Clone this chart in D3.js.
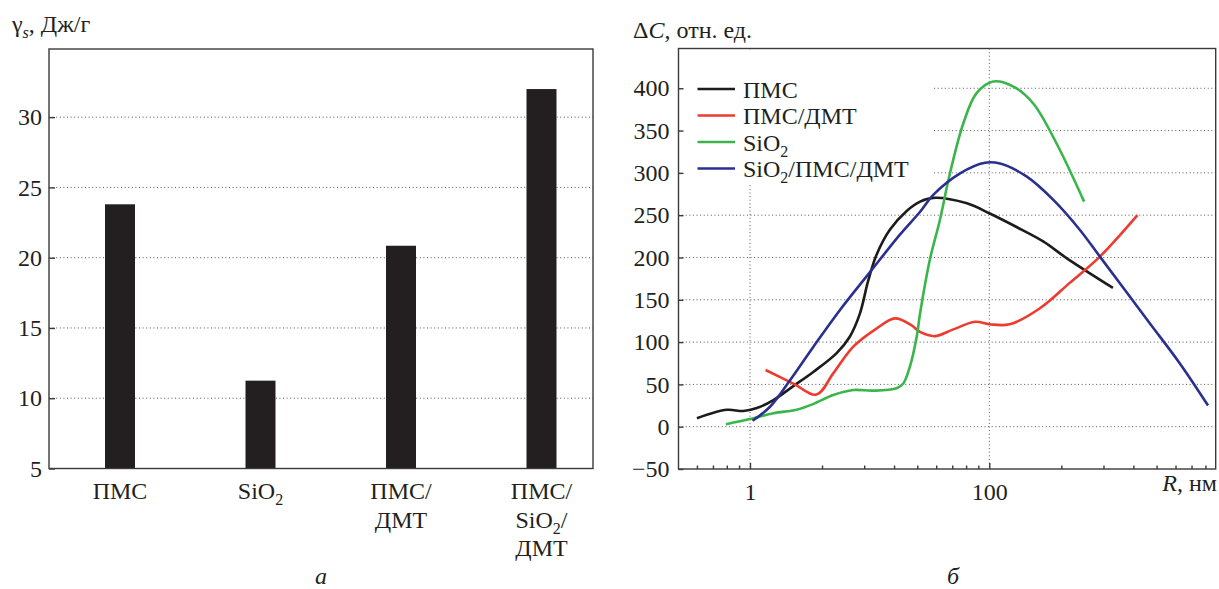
<!DOCTYPE html>
<html>
<head>
<meta charset="utf-8">
<script src="https://cdn.jsdelivr.net/npm/d3@7"></script>
<style>
  body { margin: 0; background: #fff; }
</style>
</head>
<body>
<svg id="chart" width="1219" height="589"></svg>
<script>
// ---- data (left panel: surface energy) ----
var categories = [["ПМС"], ["SiO_2"], ["ПМС/", "ДМТ"], ["ПМС/", "SiO_2/", "ДМТ"]];
var gammaValues = [23.8, 11.25, 20.85, 32.0];
var gammaTicks = [5, 10, 15, 20, 25, 30];

// ---- data (right panel: pore size distribution) ----
var seriesNames = ["ПМС", "ПМС/ДМТ", "SiO_2", "SiO_2/ПМС/ДМТ"];
var seriesColors = ["#1e1b1c", "#ee3b2f", "#3ab54a", "#2b2f8f"];

var pmsR = [0.36, 0.64, 0.88, 1.14, 1.57, 2.3, 3.4, 5.3, 6.8, 8.3, 9.7, 11.4, 14.8, 20.4, 26.4, 34, 65, 101, 169, 282, 445, 1080];
var pmsC = [10, 20, 18.5, 22, 31.5, 48, 65, 87, 106, 134, 172, 203, 233, 255, 266, 270.5, 264, 252, 236, 219, 199, 164];

var pmsDmtR = [1.35, 2.3, 3.6, 4.96, 7.3, 11.4, 16.3, 22.3, 26.4, 35, 50, 76, 101, 148, 265, 470, 840, 1730];
var pmsDmtC = [67, 51, 38, 63, 94.6, 116, 128, 120, 112, 107, 115, 124, 121, 121, 140, 170, 201, 250];

var sio2R = [0.63, 1, 1.57, 2.45, 3.4, 4.96, 7.3, 10.7, 16.8, 19.1, 21.7, 24.7, 26.4, 31.8, 38.6, 46.9, 60.7, 78, 108, 159, 233, 364, 620];
var sio2C = [3, 9, 16, 20, 27, 37.5, 43.4, 42.6, 45.4, 51, 71, 106, 134, 197, 244, 299.5, 358.6, 394, 408, 402, 382, 335, 266];

var mixR = [1.05, 1.47, 2.16, 3.39, 5.65, 10.1, 17.9, 26.4, 34, 57, 92, 123, 206, 343, 572, 840, 2200, 3900, 6730];
var mixC = [7, 23.6, 55, 94.6, 138, 183, 227, 254, 274, 299.5, 312, 311, 295.5, 268, 232.5, 201, 122, 75, 25];

var deltaTicks = [-50, 0, 50, 100, 150, 200, 250, 300, 350, 400];
var rMajorTicks = [1, 100];
var rMinorTicks = [0.36, 0.49, 0.64, 0.81, 4, 9, 16, 25, 36, 49, 64, 81, 400, 900, 1600, 2500, 3600, 4900, 6400];

var serif = "'Liberation Serif', 'DejaVu Serif', 'Noto Serif', serif";
var fontSize = 24;
var subSize = 16;
var subShift = 6;

var svg = d3.select("#chart")
  .attr("font-family", serif);

// draw "SiO_2" style text: _digit becomes a subscript
function richText(sel, str) {
  var parts = str.split(/(_\d)/);
  var shifted = false;
  parts.forEach(function(p) {
    if (!p) return;
    if (p[0] === "_") {
      sel.append("tspan").attr("dy", subShift).attr("font-size", subSize).text(p.slice(1));
      shifted = true;
    } else {
      var t = sel.append("tspan").text(p);
      if (shifted) { t.attr("dy", -subShift); shifted = false; }
    }
  });
}

function addText(g) {
  return g.append("text").attr("font-family", serif).attr("font-size", fontSize).attr("fill", "#231f20");
}

function dottedGrid(g) {
  g.attr("stroke", "#555").attr("stroke-width", 1).attr("stroke-dasharray", "1,2.6").attr("fill", "none");
}

function styleAxis(g) {
  g.select(".domain").remove();
  g.attr("font-family", serif);
  g.selectAll("line").attr("stroke", "#3a3a3a").attr("stroke-width", 1.4);
  g.selectAll("text").attr("font-size", fontSize).attr("font-family", serif).attr("fill", "#231f20");
}

// =========== LEFT PANEL ===========
var L = {left: 49, right: 593, top: 49, bottom: 468.5};

var xCat = d3.scalePoint()
  .domain(d3.range(categories.length))
  .range([120, 541.5]);

var yGamma = d3.scaleLinear()
  .domain([5, 34.85])
  .range([L.bottom, L.top]);

var left = svg.append("g");

// grid
left.append("g").call(dottedGrid)
  .selectAll("line")
  .data(gammaTicks.filter(d => d > 5))
  .enter().append("line")
  .attr("x1", L.left).attr("x2", L.right)
  .attr("y1", d => yGamma(d)).attr("y2", d => yGamma(d));

// bars
var barW = 30;
left.selectAll("rect.bar")
  .data(gammaValues)
  .enter().append("rect")
  .attr("class", "bar")
  .attr("x", (d, i) => xCat(i) - barW / 2)
  .attr("width", barW)
  .attr("y", d => yGamma(d))
  .attr("height", d => L.bottom - yGamma(d))
  .attr("fill", "#231f20");

// frame
left.append("rect")
  .attr("x", L.left).attr("y", L.top)
  .attr("width", L.right - L.left).attr("height", L.bottom - L.top)
  .attr("fill", "none").attr("stroke", "#3a3a3a").attr("stroke-width", 1.4);

// y axis, ticks pointing inward
left.append("g")
  .attr("transform", `translate(${L.left},0)`)
  .call(d3.axisLeft(yGamma).tickValues(gammaTicks).tickSize(-6).tickPadding(7))
  .call(styleAxis);

// category labels
categories.forEach(function(lines, i) {
  lines.forEach(function(s, j) {
    var t = addText(left)
      .attr("x", xCat(i))
      .attr("y", 499 + j * 28.5)
      .attr("text-anchor", "middle");
    richText(t, s);
  });
});

// axis title
var tl = addText(left).attr("x", 12).attr("y", 32);
tl.append("tspan").text("γ");
tl.append("tspan").attr("dy", subShift).attr("font-size", subSize).attr("font-style", "italic").text("s");
tl.append("tspan").attr("dy", -subShift).text(", Дж/г");

addText(left)
  .attr("x", (L.left + L.right) / 2).attr("y", 584)
  .attr("text-anchor", "middle").attr("font-style", "italic")
  .text("а");

// =========== RIGHT PANEL ===========
var R = {left: 678.5, right: 1215.7, top: 48.5, bottom: 469};

var xR = d3.scaleLog()
  .domain([0.2526, 7800])
  .range([R.left, R.right]);

var yC = d3.scaleLinear()
  .domain([-50, 447])
  .range([R.bottom, R.top]);

var right = svg.append("g");

// grid
var gridR = right.append("g").call(dottedGrid);
gridR.selectAll("line.h")
  .data(deltaTicks.filter(d => d > -50))
  .enter().append("line")
  .attr("x1", R.left).attr("x2", R.right)
  .attr("y1", d => yC(d)).attr("y2", d => yC(d));
gridR.selectAll("line.v")
  .data(rMajorTicks)
  .enter().append("line")
  .attr("x1", d => xR(d)).attr("x2", d => xR(d))
  .attr("y1", R.top).attr("y2", R.bottom);

// legend background hides the grid behind it
right.append("rect")
  .attr("x", R.left + 1).attr("y", R.top + 1)
  .attr("width", 932 - R.left - 1).attr("height", 185 - R.top - 1)
  .attr("fill", "#fff");

// curves
var seriesData = [
  d3.zip(pmsR, pmsC),
  d3.zip(pmsDmtR, pmsDmtC),
  d3.zip(sio2R, sio2C),
  d3.zip(mixR, mixC)
];

var line = d3.line()
  .x(d => xR(d[0]))
  .y(d => yC(d[1]))
  .curve(d3.curveCatmullRom.alpha(0.5));

right.selectAll("path.series")
  .data(seriesData)
  .enter().append("path")
  .attr("class", "series")
  .attr("d", line)
  .attr("fill", "none")
  .attr("stroke", (d, i) => seriesColors[i])
  .attr("stroke-width", 2.6)
  .attr("stroke-linejoin", "round");

// frame
right.append("rect")
  .attr("x", R.left).attr("y", R.top)
  .attr("width", R.right - R.left).attr("height", R.bottom - R.top)
  .attr("fill", "none").attr("stroke", "#3a3a3a").attr("stroke-width", 1.4);

// y axis
right.append("g")
  .attr("transform", `translate(${R.left},0)`)
  .call(d3.axisLeft(yC).tickValues(deltaTicks).tickSize(-5).tickPadding(9))
  .call(styleAxis);

// x axis: major and minor ticks
right.append("g")
  .attr("transform", `translate(0,${R.bottom})`)
  .call(d3.axisBottom(xR).tickValues(rMajorTicks).tickFormat(d3.format("d")).tickSize(-6).tickPadding(14))
  .call(styleAxis);

right.append("g")
  .attr("transform", `translate(0,${R.bottom})`)
  .call(d3.axisBottom(xR).tickValues(rMinorTicks).tickFormat("").tickSize(-3.5))
  .call(styleAxis);

// legend
var legend = right.append("g");
seriesNames.forEach(function(name, i) {
  var y = 89 + i * 26.5;
  legend.append("line")
    .attr("x1", 697.5).attr("x2", 735)
    .attr("y1", y).attr("y2", y)
    .attr("stroke", seriesColors[i]).attr("stroke-width", 2.6);
  var t = addText(legend).attr("x", 743).attr("y", y + 8.5);
  richText(t, name);
});

// axis titles
var tr = addText(right).attr("x", 633).attr("y", 38);
tr.append("tspan").text("Δ");
tr.append("tspan").attr("font-style", "italic").text("C");
tr.append("tspan").text(", отн. ед.");

var tx = addText(right).attr("x", 1217).attr("y", 491).attr("text-anchor", "end");
tx.append("tspan").attr("font-style", "italic").text("R");
tx.append("tspan").text(", нм");

addText(right)
  .attr("x", 953).attr("y", 584)
  .attr("text-anchor", "middle").attr("font-style", "italic")
  .text("б");
</script>
</body>
</html>
